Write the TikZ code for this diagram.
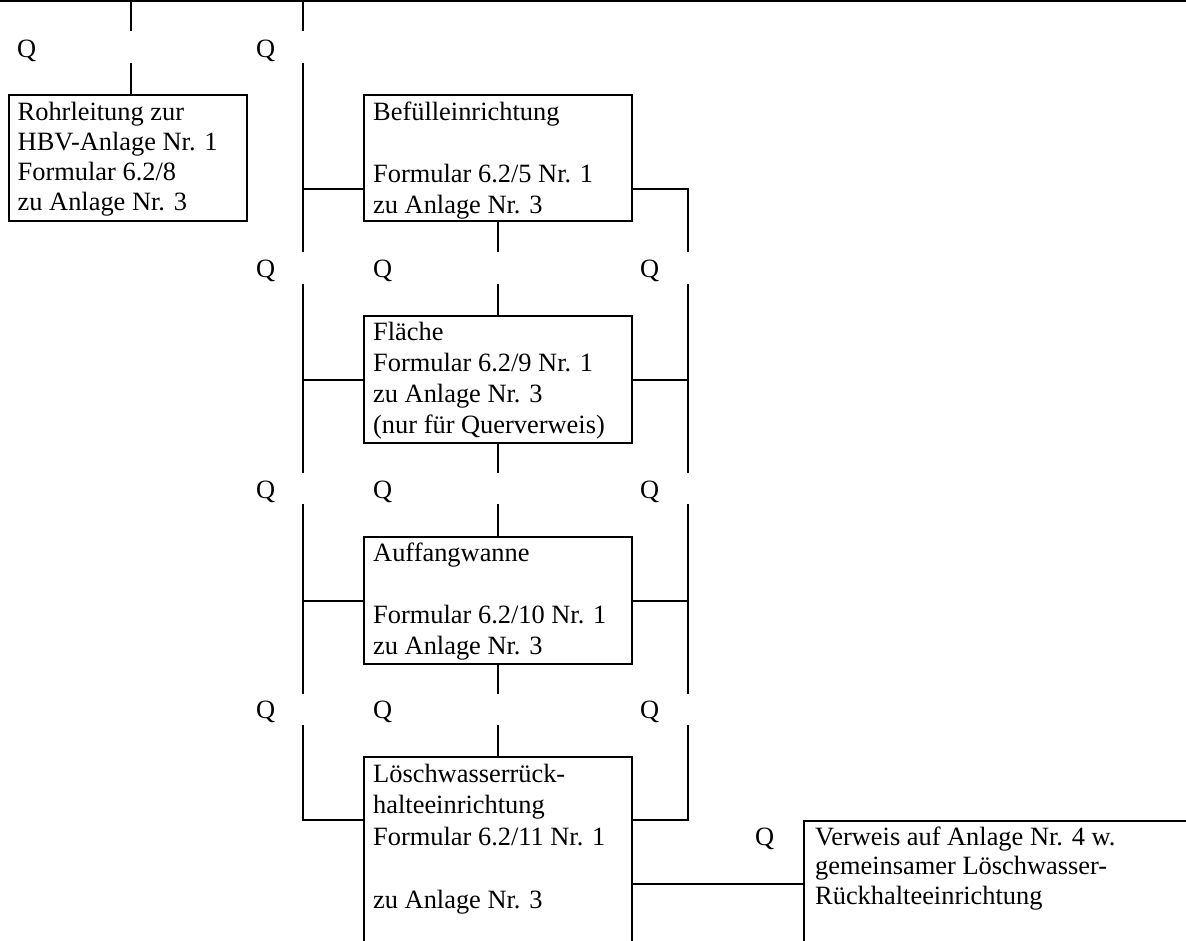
\documentclass[tikz,border=0pt]{standalone}
\usepackage{fontspec}
\setmainfont{Liberation Serif}
\newcommand\firstrule{\rule{0pt}{20pt}}
\begin{document}
\begin{tikzpicture}[x=1pt,y=-1pt,
  ln/.style={line width=2.3pt},
  box/.style={draw,line width=2.3pt,anchor=north west,inner sep=0pt,minimum width=268pt},
  txt/.style={anchor=north west,inner sep=0pt,align=left,font=\fontsize{26.4}{#1}\selectfont},
  txt/.default=30.5,
  qlab/.style={anchor=base west,inner sep=0pt,font=\fontsize{26.4}{30}\selectfont}]
\clip (0,0) rectangle (1186,941);
% boxes
\node[box,minimum width=238pt,minimum height=126pt] (b1) at (8,94) {};
\node[box,minimum height=126pt] (b2) at (363,94) {};
\node[box,minimum height=127pt] (b3) at (363,315) {};
\node[box,minimum height=127pt] (b4) at (363,536) {};
\node[box,minimum height=250pt] (b5) at (363,756) {};
\node[box,minimum width=450pt,minimum height=250pt] (bv) at (803,820) {};
% texts
\node[txt=30] (t1) at (17.5,100) {\firstrule Rohrleitung zur\\HBV-Anlage Nr. 1\\Formular 6.2/8\\zu Anlage Nr. 3};
\node[txt=31] (t2) at (373,100) {\firstrule Befülleinrichtung\\~\\Formular 6.2/5 Nr. 1\\zu Anlage Nr. 3};
\node[txt=31] (t3) at (373,320.5) {\firstrule Fläche\\Formular 6.2/9 Nr. 1\\zu Anlage Nr. 3\\(nur für Querverweis)};
\node[txt=31] (t4) at (373,541.5) {\firstrule Auffangwanne\\~\\Formular 6.2/10 Nr. 1\\zu Anlage Nr. 3};
\node[txt=31.5] (t5) at (373,762) {\firstrule Löschwasserrück-\\halteeinrichtung\\Formular 6.2/11 Nr. 1\\~\\zu Anlage Nr. 3};
\node[txt=29.5] (tv) at (815,825) {\firstrule Verweis auf Anlage Nr. 4 w.\\gemeinsamer Löschwasser-\\Rückhalteeinrichtung};
% Q labels
\node[qlab] (q11) at (17,58) {Q};
\node[qlab] (q12) at (256,58) {Q};
\node[qlab] (q21) at (256,278) {Q};
\node[qlab] (q22) at (373,278) {Q};
\node[qlab] (q23) at (640,278) {Q};
\node[qlab] (q31) at (256,498) {Q};
\node[qlab] (q32) at (373,498) {Q};
\node[qlab] (q33) at (640,498) {Q};
\node[qlab] (q41) at (256,718) {Q};
\node[qlab] (q42) at (373,718) {Q};
\node[qlab] (q43) at (640,718) {Q};
\node[qlab] (qv) at (755,845) {Q};
% coordinates
\coordinate (TL) at (0,1); \coordinate (TR) at (1186,1);
\coordinate (A0) at (131,1); \coordinate (A1) at (131,31); \coordinate (A2) at (131,63);
\coordinate (C0) at (303,1); \coordinate (C1) at (303,31);
\coordinate (L1t) at (303,63); \coordinate (L1b) at (303,252);
\coordinate (L2t) at (303,284); \coordinate (L2b) at (303,473);
\coordinate (L3t) at (303,504); \coordinate (L3b) at (303,694);
\coordinate (L4t) at (303,725); \coordinate (L4b) at (303,820);
\coordinate (R1t) at (688,189); \coordinate (R1b) at (688,252);
\coordinate (R2t) at (688,284); \coordinate (R2b) at (688,473);
\coordinate (R3t) at (688,504); \coordinate (R3b) at (688,694);
\coordinate (R4t) at (688,725); \coordinate (R4b) at (688,820);
\coordinate (H1) at (303,189);
\coordinate (M1) at (b2.south |- L1b);
\coordinate (M2) at (b3.north |- L2t);
\coordinate (M3) at (b3.south |- L2b);
\coordinate (M4) at (b4.north |- L3t);
\coordinate (M5) at (b4.south |- L3b);
\coordinate (M6) at (b5.north |- L4t);
\coordinate (V) at (631,884);
% connectors
\draw[ln] (TL) -- (TR);
\draw[ln] (A0) -- (A1);
\draw[ln] (A2) -- (A2 |- b1.north);
\draw[ln] (C0) -- (C1);
\draw[ln] (L1t) -- (L1b);
\draw[ln] (L2t) -- (L2b);
\draw[ln] (L3t) -- (L3b);
\draw[ln] (L4t) -- (L4b) -- (L4b -| b5.west);
\draw[ln] (H1) -- (H1 -| b2.west);
\draw[ln] (b3.west -| L2t) -- (b3.west);
\draw[ln] (b4.west -| L3t) -- (b4.west);
\draw[ln] (R1t -| b2.east) -- (R1t) -- (R1b);
\draw[ln] (R2t) -- (R2b);
\draw[ln] (b3.east) -- (b3.east -| R2t);
\draw[ln] (R3t) -- (R3b);
\draw[ln] (b4.east) -- (b4.east -| R3t);
\draw[ln] (R4t) -- (R4b) -- (R4b -| b5.east);
\draw[ln] (b2.south) -- (M1);
\draw[ln] (M2) -- (b3.north);
\draw[ln] (b3.south) -- (M3);
\draw[ln] (M4) -- (b4.north);
\draw[ln] (b4.south) -- (M5);
\draw[ln] (M6) -- (b5.north);
\draw[ln] (V -| b5.east) -- (V -| bv.west);
\end{tikzpicture}
\end{document}
